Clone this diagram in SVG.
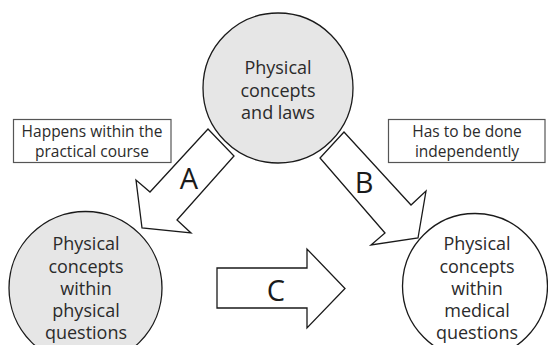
<svg xmlns="http://www.w3.org/2000/svg" width="548" height="345" viewBox="0 0 548 345">
<style>
.bg{fill:#ffffff}
.node{stroke:#1a1a1a;stroke-width:1.3}
.gray{fill:#e6e6e6}
.white{fill:#ffffff}
.arrow{fill:#ffffff;stroke:#1a1a1a;stroke-width:1.3;stroke-linejoin:miter}
.box{fill:#ffffff;stroke:#555555;stroke-width:1.2}
.t{font-family:"Open Sans","Noto Sans",sans-serif;font-size:18px;fill:#2b2b2b;text-anchor:middle}
.s{font-family:"Open Sans","Noto Sans",sans-serif;font-size:15.5px;fill:#2b2b2b;text-anchor:middle}
.l{font-family:"Open Sans","Noto Sans",sans-serif;font-size:29px;fill:#1a1a1a;text-anchor:middle}
</style>
<rect class="bg" x="0" y="0" width="548" height="345"/>
<g id="connectors">
<g id="arrowA">
<polygon class="arrow" points="208,129 234,156 177,220 191,233 142,228 136,180 150,192"/>
<text class="l" x="189" y="189">A</text>
</g>
<g id="arrowB">
<polygon class="arrow" points="344,132 320,158 385,233 371,245 418,238 426,191 411,205"/>
<text class="l" x="364" y="193">B</text>
</g>
<g id="arrowC">
<polygon class="arrow" points="217,268 307,268 307,249 345,288.5 307,328 307,308 217,308"/>
<text class="l" x="276" y="301">C</text>
</g>
</g>
<g id="node-top">
<circle class="node gray" cx="278" cy="88" r="75"/>
<text class="t" x="278" y="74">Physical</text>
<text class="t" x="278" y="96.5">concepts</text>
<text class="t" x="278" y="119">and laws</text>
</g>
<g id="node-left">
<circle class="node gray" cx="85.5" cy="288" r="76.5"/>
<text class="t" x="86" y="250">Physical</text>
<text class="t" x="86" y="272.5">concepts</text>
<text class="t" x="86" y="295">within</text>
<text class="t" x="86" y="317">physical</text>
<text class="t" x="86" y="339">questions</text>
</g>
<g id="node-right">
<circle class="node white" cx="475" cy="286" r="72.5"/>
<text class="t" x="477" y="250">Physical</text>
<text class="t" x="477" y="272.5">concepts</text>
<text class="t" x="477" y="295">within</text>
<text class="t" x="477" y="317">medical</text>
<text class="t" x="477" y="339">questions</text>
</g>
<g id="label-left">
<rect class="box" x="13.5" y="119.5" width="157.5" height="43"/>
<text class="s" x="92" y="137">Happens within the</text>
<text class="s" x="92" y="157">practical course</text>
</g>
<g id="label-right">
<rect class="box" x="388.5" y="119.5" width="156.5" height="43"/>
<text class="s" x="467" y="137">Has to be done</text>
<text class="s" x="467" y="157">independently</text>
</g>
</svg>
